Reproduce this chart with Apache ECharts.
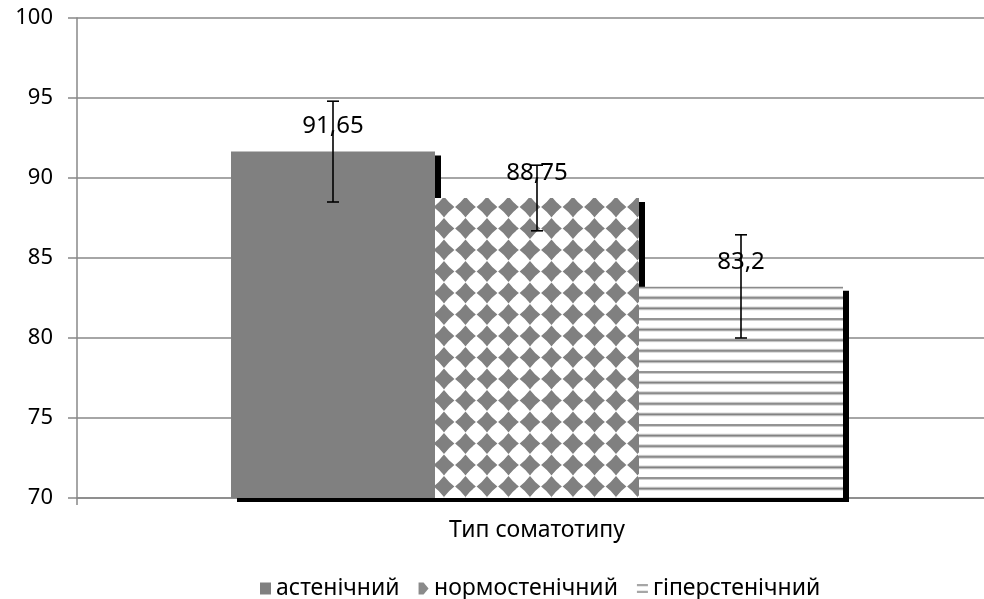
<!DOCTYPE html>
<html>
<head>
<meta charset="utf-8">
<script src="https://cdn.jsdelivr.net/npm/echarts@6/dist/echarts.min.js"></script>
<style>html,body{margin:0;padding:0;background:#fff}#c{width:984px;height:599px}</style>
</head>
<body>
<div id="c"></div>
<script>
const categories = ['Тип соматотипу'];
const seriesNames = ['астенічний', 'нормостенічний', 'гіперстенічний'];
const values = [91.65, 88.75, 83.2];
const errLow = [88.5, 86.7, 80.0];
const errHigh = [94.8, 90.8, 86.45];
const yTicks = [70, 75, 80, 85, 90, 95, 100];

const BAR_W = 204;
const FONT = '"Noto Sans", sans-serif';

function diamondPattern() {
  const c = document.createElement('canvas');
  c.width = 43; c.height = 43;
  const g = c.getContext('2d');
  g.fillStyle = '#fff'; g.fillRect(0, 0, 43, 43);
  g.fillStyle = '#808080';
  try { g.filter = 'blur(0.6px)'; } catch (e) {}
  const cxs = [14, 35.5], cys = [13.5, 35];
  for (const cx0 of cxs) for (const cy0 of cys)
    for (let kx = -1; kx <= 1; kx++) for (let ky = -1; ky <= 1; ky++) {
      const cx = cx0 + kx * 43, cy = cy0 + ky * 43, r = 10.4, q = 4.5;
      g.beginPath();
      g.moveTo(cx, cy - r);
      g.quadraticCurveTo(cx + q, cy - q, cx + r, cy);
      g.quadraticCurveTo(cx + q, cy + q, cx, cy + r);
      g.quadraticCurveTo(cx - q, cy + q, cx - r, cy);
      g.quadraticCurveTo(cx - q, cy - q, cx, cy - r);
      g.closePath(); g.fill();
    }
  return c;
}
function linePattern() {
  const c = document.createElement('canvas');
  c.width = 40; c.height = 53;
  const g = c.getContext('2d');
  g.fillStyle = '#fff'; g.fillRect(0, 0, 40, 53);
  for (let i = 0; i < 5; i++) {
    const y = 1 + i * 10.6;
    g.fillStyle = '#dcdcdc'; g.fillRect(0, y - 2, 40, 4);
    g.fillStyle = '#b0b0b0'; g.fillRect(0, y - 1.3, 40, 2.6);
    g.fillStyle = '#828282'; g.fillRect(0, y - 0.6, 40, 1.2);
  }
  return c;
}

const fills = ['#808080', { image: diamondPattern(), repeat: 'repeat' }, { image: linePattern(), repeat: 'repeat' }];
const legendIcons = [
  'rect',
  'path://M0,0 L5,0 L10,6 L5,12 L0,12 Z',
  'path://M0,0 L10,0 L10,2 L0,2 Z M0,6 L10,6 L10,8 L0,8 Z'
];
const legendColors = ['#808080', '#8a8a8a', '#a6a6a6'];

const chart = echarts.init(document.getElementById('c'), null, { renderer: 'canvas' });

const barSeries = seriesNames.map((name, i) => ({
  name: name,
  type: 'bar',
  data: [values[i]],
  barWidth: BAR_W,
  barGap: '0%',
  z: 2,
  itemStyle: {
    color: fills[i],
    shadowColor: '#000',
    shadowBlur: 0,
    shadowOffsetX: 6,
    shadowOffsetY: 4
  },
  label: {
    show: true,
    position: 'top',
    distance: 13,
    color: '#000',
    fontFamily: FONT,
    fontSize: 24,
    formatter: p => String(p.value).replace('.', ',')
  }
}));

const errData = values.map((v, i) => [0, errLow[i], errHigh[i], i]);

chart.setOption({
  animation: false,
  backgroundColor: '#fff',
  grid: { left: 77, width: 920, top: 18, bottom: 101, containLabel: false, outerBoundsMode: 'none' },
  legend: {
    data: seriesNames.map((n, i) => ({
      name: n,
      icon: legendIcons[i],
      itemStyle: { color: legendColors[i], shadowBlur: 0, shadowOffsetX: 0, shadowOffsetY: 0, shadowColor: 'transparent' }
    })),
    top: 572,
    left: 255,
    itemWidth: 11,
    itemHeight: 12,
    itemGap: 19,
    textStyle: { fontFamily: FONT, fontSize: 23, color: '#000' }
  },
  xAxis: {
    type: 'category',
    data: categories,
    axisLine: { lineStyle: { color: '#888', width: 1.5 } },
    axisTick: { show: true, length: 7, lineStyle: { color: '#888', width: 1.5 } },
    axisLabel: { margin: 21, color: '#000', fontFamily: FONT, fontSize: 23 }
  },
  yAxis: {
    type: 'value',
    min: yTicks[0],
    max: yTicks[yTicks.length - 1],
    interval: 5,
    axisLine: { show: true, lineStyle: { color: '#888', width: 1.5 } },
    axisTick: { show: true, length: 9, lineStyle: { color: '#888', width: 1.5 } },
    splitLine: { lineStyle: { color: '#888', width: 1.5 } },
    axisLabel: { margin: 24, color: '#000', fontFamily: FONT, fontSize: 22 }
  },
  series: barSeries.concat([{
    type: 'custom',
    name: 'err',
    z: 5,
    encode: { x: 0, y: [1, 2] },
    data: errData,
    renderItem: function (params, api) {
      const idx = api.value(3);
      const lo = api.coord([0, api.value(1)]);
      const hi = api.coord([0, api.value(2)]);
      const x = lo[0] + (idx - 1) * BAR_W;
      const cap = 6;
      const st = { stroke: '#000', lineWidth: 1.6 };
      return {
        type: 'group',
        children: [
          { type: 'line', shape: { x1: x, y1: lo[1], x2: x, y2: hi[1] }, style: st },
          { type: 'line', shape: { x1: x - cap, y1: lo[1], x2: x + cap, y2: lo[1] }, style: st },
          { type: 'line', shape: { x1: x - cap, y1: hi[1], x2: x + cap, y2: hi[1] }, style: st }
        ]
      };
    }
  }])
});
</script>
</body>
</html>
